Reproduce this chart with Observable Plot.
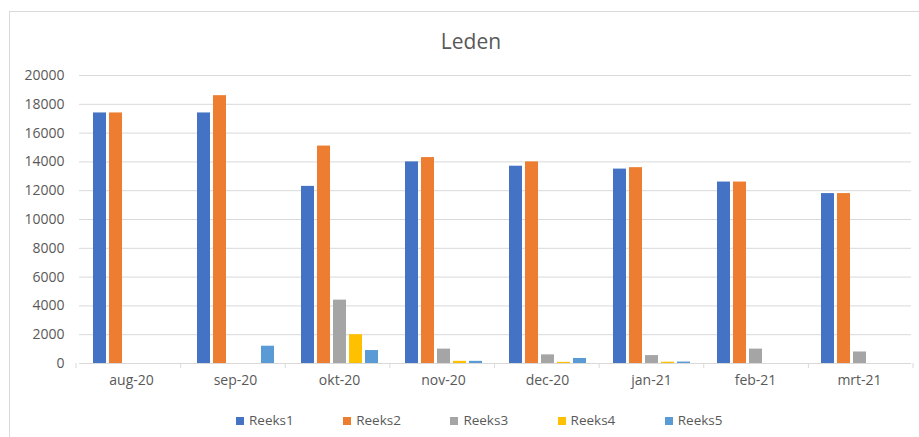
<!DOCTYPE html>
<html>
<head>
<meta charset="utf-8">
<script src="https://cdn.jsdelivr.net/npm/d3@7"></script>
<script src="https://cdn.jsdelivr.net/npm/@observablehq/plot@0.6"></script>
<style>
  html, body { margin: 0; padding: 0; background: #fff; }
  body { width: 919px; height: 437px; position: relative; overflow: hidden; font-family: "Open Sans", sans-serif; color: #595959; }
  #border { position: absolute; left: 9px; top: 11px; width: 1000px; height: 1000px; border-left: 1px solid #d9d9d9; border-top: 1px solid #d9d9d9; box-sizing: border-box; }
  #title { position: absolute; left: 9px; width: 924px; top: 26px; height: 30px; line-height: 30px; text-align: center; font-size: 21px; color: #595959; }
  #chart { position: absolute; left: 0; top: 60px; }
  #legend { position: absolute; left: 236px; top: 410px; height: 20px; white-space: nowrap; font-size: 13.5px; color: #595959; }
  #legend .item { display: inline-block; width: 107.2px; line-height: 20px; }
  #legend .sw { display: inline-block; width: 8px; height: 8px; margin-right: 5px; vertical-align: 0px; }
</style>
</head>
<body>
<div id="border"></div>
<div id="title">Leden</div>
<div id="chart"></div>
<div id="legend"></div>
<script>
const months = ["aug-20", "sep-20", "okt-20", "nov-20", "dec-20", "jan-21", "feb-21", "mrt-21"];
const seriesNames = ["Reeks1", "Reeks2", "Reeks3", "Reeks4", "Reeks5"];
const reeks1 = [17400, 17400, 12300, 14000, 13700, 13500, 12600, 11800];
const reeks2 = [17400, 18600, 15100, 14300, 14000, 13600, 12600, 11800];
const reeks3 = [0, 0, 4400, 1000, 600, 550, 1000, 800];
const reeks4 = [0, 0, 2000, 150, 80, 90, 0, 0];
const reeks5 = [0, 1200, 900, 150, 350, 100, 0, 0];
const colors = ["#4472C4", "#ED7D31", "#A5A5A5", "#FFC000", "#5B9BD5"];
const yTicks = [0, 2000, 4000, 6000, 8000, 10000, 12000, 14000, 16000, 18000, 20000];

const allSeries = [reeks1, reeks2, reeks3, reeks4, reeks5];
const data = [];
months.forEach((m, i) => {
  seriesNames.forEach((s, j) => data.push({month: m, series: s, value: allSeries[j][i]}));
});

const plot = Plot.plot({
  width: 919,
  height: 340,
  marginLeft: 76,
  marginRight: 6,
  marginTop: 15,
  marginBottom: 37,
  style: {fontFamily: "'Open Sans', sans-serif", fontSize: "14px", color: "#595959", background: "transparent"},
  fx: {domain: months, padding: 0, label: null, axis: "bottom", tickSize: 0, tickPadding: 12},
  x: {domain: seriesNames, paddingInner: 0.2, paddingOuter: 0.82, axis: null},
  y: {domain: [0, 20000], ticks: yTicks, tickSize: 0, tickPadding: 15, tickFormat: d => String(d), label: null},
  color: {domain: seriesNames, range: colors},
  facet: {data: data, x: "month"},
  marks: [
    Plot.ruleY(yTicks, {stroke: "#d9d9d9", strokeWidth: 1}),
    Plot.barY(data, {x: "series", y: "value", fill: "series"})
  ]
});
document.getElementById("chart").appendChild(plot);

// category boundary ticks on the baseline, placed from the plot's own scales
const fxs = plot.scale("fx");
const ys = plot.scale("y");
const band = d3.scaleBand().domain(fxs.domain).range(fxs.range).padding(0);
const edges = fxs.domain.map(d => band(d)).concat([band.range()[1]]);
const y0 = ys.apply(0);
const svg = d3.select(plot.tagName.toLowerCase() === "svg" ? plot : plot.querySelector("svg"));
svg.append("g").selectAll("line").data(edges).join("line")
  .attr("x1", d => d).attr("x2", d => d)
  .attr("y1", y0).attr("y2", y0 + 5)
  .attr("stroke", "#d9d9d9");

// legend
const legend = d3.select("#legend");
seriesNames.forEach((s, i) => {
  const it = legend.append("span").attr("class", "item");
  it.append("span").attr("class", "sw").style("background", colors[i]);
  it.append("span").text(s);
});
</script>
</body>
</html>
